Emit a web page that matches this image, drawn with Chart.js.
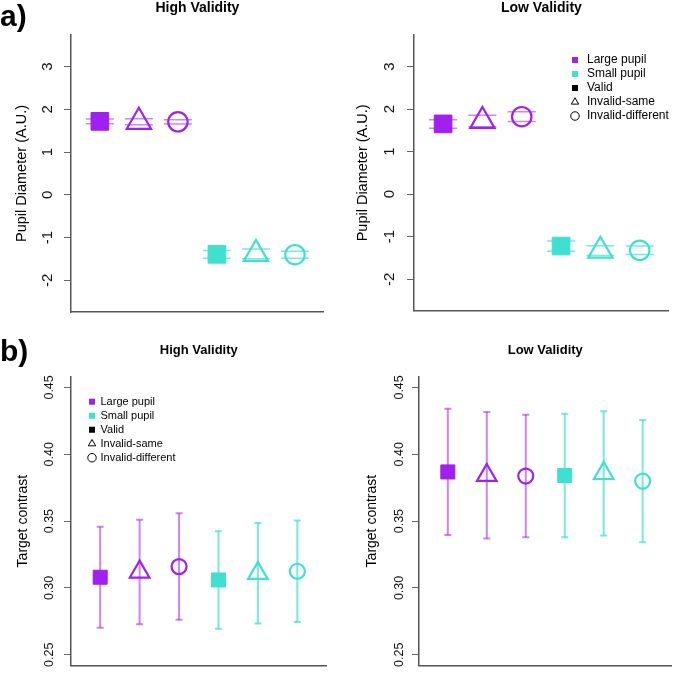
<!DOCTYPE html>
<html>
<head>
<meta charset="utf-8">
<script src="https://cdn.jsdelivr.net/npm/chart.js@4.4.0/dist/chart.umd.min.js"></script>
<style>
  body { margin: 0; background: #fff; width: 685px; height: 679px; position: relative; overflow: hidden;
         font-family: "Liberation Sans", Arial, sans-serif; }
  canvas { position: absolute; }
  .tag { position: absolute; left: 0; font-weight: bold; font-size: 30px; line-height: 30px; color: #000; }
</style>
</head>
<body>
<canvas id="pa1" width="340" height="330" style="left:0;top:0"></canvas>
<canvas id="pa2" width="345" height="330" style="left:340px;top:0"></canvas>
<canvas id="pb1" width="340" height="349" style="left:0;top:330px"></canvas>
<canvas id="pb2" width="345" height="349" style="left:340px;top:330px"></canvas>
<div class="tag" style="top:1px">a)</div>
<div class="tag" style="top:336px">b)</div>
<script>
// conditions sit at x = 1..3 (large pupil) and 4..6 (small pupil)
const conditions = ['Valid', 'Invalid-same', 'Invalid-different'];
const largeX = [1, 2, 3];
const smallX = [4, 5, 6];

const pupilTicks = [-2, -1, 0, 1, 2, 3];
const contrastTicks = [0.25, 0.30, 0.35, 0.40, 0.45];

// a) pupil diameter, mean and SE
const pupilHighLarge   = [1.72, 1.71, 1.71];
const pupilHighLargeSE = [0.055, 0.07, 0.05];
const pupilHighSmall   = [-1.39, -1.38, -1.40];
const pupilHighSmallSE = [0.09, 0.115, 0.08];
const pupilLowLarge    = [1.65, 1.72, 1.82];
const pupilLowLargeSE  = [0.10, 0.135, 0.115];
const pupilLowSmall    = [-1.22, -1.33, -1.32];
const pupilLowSmallSE  = [0.12, 0.115, 0.10];

// b) target contrast, mean and CI half-width
const contrastHighLarge    = [0.308, 0.312, 0.316];
const contrastHighLargeErr = [0.0377, 0.0391, 0.0398];
const contrastHighSmall    = [0.306, 0.311, 0.3125];
const contrastHighSmallErr = [0.0365, 0.0376, 0.038];
const contrastLowLarge     = [0.3868, 0.3843, 0.3837];
const contrastLowLargeErr  = [0.0472, 0.0473, 0.0458];
const contrastLowSmall     = [0.3841, 0.3857, 0.3799];
const contrastLowSmallErr  = [0.0462, 0.0465, 0.0458];

const PURPLE = '#a020f0', TURQ = '#40e0d0';
const PURPLE_ERR = 'rgba(160,32,240,0.55)', TURQ_ERR = 'rgba(64,224,208,0.7)';
const FONT = '"Liberation Sans", Arial, sans-serif';
const NONE = 'rgba(0,0,0,0)';

const legendItems = [
  { text: 'Large pupil', fillStyle: PURPLE, strokeStyle: PURPLE, lineWidth: 0, pointStyle: 'rect' },
  { text: 'Small pupil', fillStyle: TURQ, strokeStyle: TURQ, lineWidth: 0, pointStyle: 'rect' },
  { text: 'Valid', fillStyle: '#000', strokeStyle: '#000', lineWidth: 0, pointStyle: 'rect' },
  { text: 'Invalid-same', fillStyle: NONE, strokeStyle: '#000', lineWidth: 1, pointStyle: 'triangle' },
  { text: 'Invalid-different', fillStyle: NONE, strokeStyle: '#000', lineWidth: 1, pointStyle: 'circle' }
];

// moves the chartArea legend to a fixed spot inside the plot
const legendSpot = {
  id: 'legendSpot',
  afterLayout(chart, args, opts) {
    if (!chart.legend || opts.left == null) return;
    chart.legend.left = opts.left;
    chart.legend.top = opts.top;
  }
};

// shaft=false draws only the two caps (panel a, where bars hide inside the markers)
function errorSets(xs, means, errs, color, cap, width, shaft) {
  return xs.map((x, i) => ({
    type: 'line', order: 1, showLine: shaft,
    data: [{ x, y: means[i] - errs[i] }, { x, y: means[i] + errs[i] }],
    borderColor: color, borderWidth: width,
    pointStyle: 'line', pointRadius: cap, pointHoverRadius: cap,
    pointBorderColor: color, pointBorderWidth: width
  }));
}

function markerSet(xs, means, color, radii) {
  return {
    type: 'scatter', order: 0,
    data: xs.map((x, i) => ({ x, y: means[i] })),
    pointStyle: ['rect', 'triangle', 'circle'],
    pointRadius: radii, pointHoverRadius: radii,
    pointBackgroundColor: [color, NONE, NONE],
    pointBorderColor: color,
    pointBorderWidth: [1, 2.2, 2.2]
  };
}

function panel(id, c) {
  return new Chart(document.getElementById(id), {
    type: 'scatter',
    data: { datasets: c.datasets },
    options: {
      responsive: false, animation: false, devicePixelRatio: 1,
      layout: { padding: { left: 0, right: c.padRight, top: 0, bottom: 0 } },
      plugins: {
        title: { display: true, text: c.title, fullSize: false, color: '#000',
                 font: { family: FONT, size: c.titleSize, weight: 'bold' }, padding: c.titlePad },
        legend: c.legend ? {
          display: true, position: 'chartArea', align: 'start',
          labels: { usePointStyle: true, boxWidth: c.legend.box, boxHeight: 6, padding: c.legend.gap, color: '#222',
                    font: { family: FONT, size: c.legend.size }, generateLabels: () => legendItems }
        } : { display: false },
        legendSpot: c.legend ? { left: c.legend.left, top: c.legend.top } : {},
        tooltip: { enabled: false }
      },
      scales: {
        x: {
          type: 'linear', min: 0.26, max: 6.74,
          ticks: { display: false }, grid: { display: false },
          border: { color: '#555', width: 1.5 },
          afterFit: s => { s.height = c.bottomGap; }
        },
        y: {
          type: 'linear', min: c.yMin, max: c.yMax,
          afterBuildTicks: s => { s.ticks = c.ticks.map(v => ({ value: v })); },
          ticks: { minRotation: 90, maxRotation: 90, crossAlign: 'center', padding: c.tickPad, color: '#111',
                   font: { family: FONT, size: c.tickSize }, callback: v => c.fmt(v) },
          grid: { drawOnChartArea: false, drawTicks: true, tickLength: 7, tickColor: '#666', tickWidth: 1 },
          border: { color: '#555', width: 1.5 },
          title: { display: true, text: c.yTitle, color: '#000', font: { family: FONT, size: c.yTitleSize },
                   padding: { top: c.yTitlePad, bottom: 0 } },
          afterFit: s => { s.width = c.leftGap; }
        }
      }
    },
    plugins: [legendSpot]
  });
}

const radiiA = [12.5, 14, 9.7];
const radiiB = [9.9, 11.3, 7.5];
const intFmt = v => String(v);
const decFmt = v => v.toFixed(2);

panel('pa1', {
  title: 'High Validity', titleSize: 14, titlePad: { top: 0, bottom: 18.2 },
  yTitle: 'Pupil Diameter (A.U.)', yTitleSize: 14.5, yTitlePad: 13,
  yMin: -2.74, yMax: 3.74, ticks: pupilTicks, fmt: intFmt, tickSize: 15, tickPad: 9,
  leftGap: 71, padRight: 14, bottomGap: 15,
  datasets: [
    ...errorSets(largeX, pupilHighLarge, pupilHighLargeSE, PURPLE_ERR, 14, 1.5, false),
    ...errorSets(smallX, pupilHighSmall, pupilHighSmallSE, TURQ_ERR, 14, 1.5, false),
    markerSet(largeX, pupilHighLarge, PURPLE, radiiA),
    markerSet(smallX, pupilHighSmall, TURQ, radiiA)
  ]
});

panel('pa2', {
  title: 'Low Validity', titleSize: 14, titlePad: { top: 0, bottom: 18.2 },
  yTitle: 'Pupil Diameter (A.U.)', yTitleSize: 14.5, yTitlePad: 14.3,
  yMin: -2.74, yMax: 3.74, ticks: pupilTicks, fmt: intFmt, tickSize: 15, tickPad: 10.3,
  leftGap: 74, padRight: 16, bottomGap: 15,
  legend: { left: 227, top: 52, size: 12, gap: 2, box: 12 },
  datasets: [
    ...errorSets(largeX, pupilLowLarge, pupilLowLargeSE, PURPLE_ERR, 14, 1.5, false),
    ...errorSets(smallX, pupilLowSmall, pupilLowSmallSE, TURQ_ERR, 14, 1.5, false),
    markerSet(largeX, pupilLowLarge, PURPLE, radiiA),
    markerSet(smallX, pupilLowSmall, TURQ, radiiA)
  ]
});

panel('pb1', {
  title: 'High Validity', titleSize: 13, titlePad: { top: 12.2, bottom: 18.9 },
  yTitle: 'Target contrast', yTitleSize: 14, yTitlePad: 14.9,
  yMin: 0.242, yMax: 0.458, ticks: contrastTicks, fmt: decFmt, tickSize: 12.5, tickPad: 2.3,
  leftGap: 71, padRight: 4, bottomGap: 2.3,
  legend: { left: 86, top: 63.2, size: 11, gap: 3, box: 6 },
  datasets: [
    ...errorSets(largeX, contrastHighLarge, contrastHighLargeErr, PURPLE_ERR, 3.5, 2, true),
    ...errorSets(smallX, contrastHighSmall, contrastHighSmallErr, TURQ_ERR, 3.5, 2, true),
    markerSet(largeX, contrastHighLarge, PURPLE, radiiB),
    markerSet(smallX, contrastHighSmall, TURQ, radiiB)
  ]
});

panel('pb2', {
  title: 'Low Validity', titleSize: 13, titlePad: { top: 12.2, bottom: 18.9 },
  yTitle: 'Target contrast', yTitleSize: 14, yTitlePad: 23.3,
  yMin: 0.242, yMax: 0.458, ticks: contrastTicks, fmt: decFmt, tickSize: 12.5, tickPad: 0.6,
  leftGap: 79, padRight: 0, bottomGap: 2.3,
  datasets: [
    ...errorSets(largeX, contrastLowLarge, contrastLowLargeErr, PURPLE_ERR, 3.5, 2, true),
    ...errorSets(smallX, contrastLowSmall, contrastLowSmallErr, TURQ_ERR, 3.5, 2, true),
    markerSet(largeX, contrastLowLarge, PURPLE, radiiB),
    markerSet(smallX, contrastLowSmall, TURQ, radiiB)
  ]
});
</script>
</body>
</html>
